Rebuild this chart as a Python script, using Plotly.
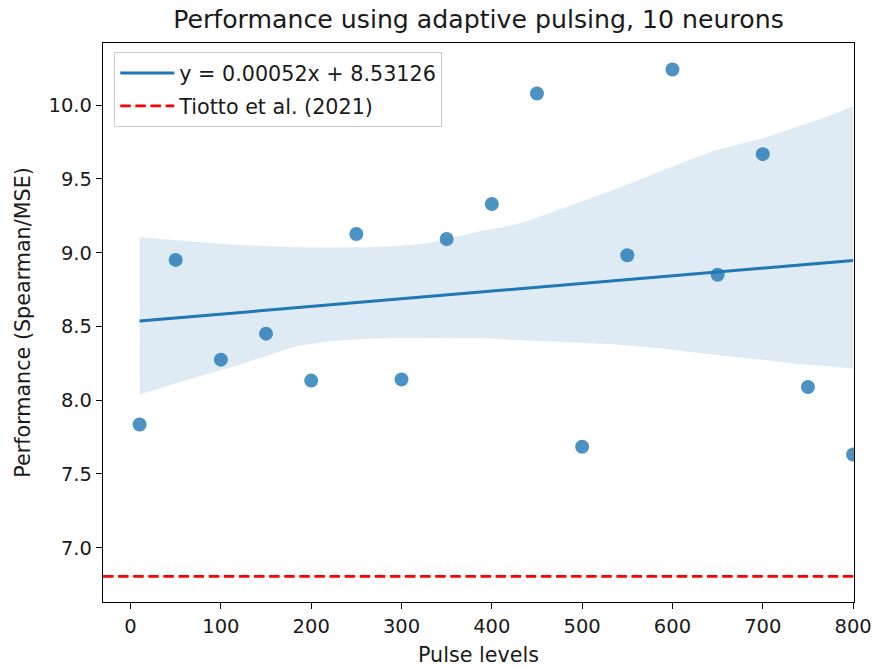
import plotly.graph_objects as go

# Measured performance at each pulse level
pulse_levels = [10, 50, 100, 150, 200, 250, 300, 350, 400, 450, 500, 550, 600, 650, 700, 750, 800]
performance = [7.835, 8.951, 8.275, 8.451, 8.133, 9.127, 8.141, 9.093, 9.330, 10.079,
               7.684, 8.983, 10.242, 8.850, 9.668, 8.090, 7.632]

# Linear fit coefficients (as reported in the legend)
fit_slope = 0.00052
fit_intercept = 8.53126

# 95% confidence band around the fit (bootstrap estimate)
band_x = [10, 40, 75, 110, 150, 185, 220, 260, 295, 330, 370, 390, 410, 435, 480,
          535, 590, 645, 700, 740, 775, 800]
band_upper = [9.105, 9.09, 9.072, 9.055, 9.045, 9.037, 9.035, 9.037, 9.045, 9.064, 9.12,
              9.15, 9.17, 9.205, 9.305, 9.425, 9.56, 9.69, 9.775, 9.855, 9.93, 9.995]
band_lower = [8.038, 8.094, 8.16, 8.22, 8.297, 8.369, 8.399, 8.415, 8.421, 8.421, 8.425,
              8.42, 8.415, 8.405, 8.395, 8.38, 8.349, 8.308, 8.275, 8.243, 8.23, 8.214]

# Reference performance from the literature
baseline_value = 6.806
baseline_label = "Tiotto et al. (2021)"

x_range = [-30.5, 801]
y_range = [6.632, 10.4215]
x_ticks = [0, 100, 200, 300, 400, 500, 600, 700, 800]
y_ticks = [7.0, 7.5, 8.0, 8.5, 9.0, 9.5, 10.0]

BLUE = "#1f77b4"
FONT = "DejaVu Sans"
TEXT = "#1a1a1a"
TICK_SIZE = 19.5
LABEL_SIZE = 20.7
TITLE_SIZE = 25.2

fit_x = [min(pulse_levels), max(pulse_levels)]
fit_y = [fit_slope * v + fit_intercept for v in fit_x]
fit_label = f"y = {fit_slope:.5f}x + {fit_intercept:.5f}"

fig = go.Figure()

# confidence band
fig.add_trace(go.Scatter(x=band_x, y=band_upper, mode="lines", line=dict(width=0),
                         showlegend=False, hoverinfo="skip"))
fig.add_trace(go.Scatter(x=band_x, y=band_lower, mode="lines", line=dict(width=0),
                         fill="tonexty", fillcolor="rgba(31,119,180,0.15)",
                         showlegend=False, hoverinfo="skip"))

# observations
fig.add_trace(go.Scatter(x=pulse_levels, y=performance, mode="markers",
                         marker=dict(color=BLUE, size=14, opacity=0.8, line=dict(width=0)),
                         showlegend=False, cliponaxis=True))

# regression line
fig.add_trace(go.Scatter(x=fit_x, y=fit_y, mode="lines", name=fit_label,
                         legendgroup="fit", legendrank=1,
                         line=dict(color=BLUE, width=3)))

# literature baseline across the full axis
fig.add_trace(go.Scatter(x=x_range, y=[baseline_value, baseline_value], mode="lines",
                         name=baseline_label, legendgroup="ref", legendrank=2,
                         line=dict(color="red", width=2.8, dash="10.5px,4.6px")))

axis_common = dict(showline=True, linecolor="black", linewidth=1.3, mirror=True,
                   ticks="outside", ticklen=6, tickwidth=1.3, tickcolor="black",
                   showgrid=False, zeroline=False, automargin=False,
                   tickfont=dict(family=FONT, size=TICK_SIZE, color=TEXT))

fig.update_xaxes(range=x_range, tickvals=x_ticks,
                 title=dict(text="Pulse levels",
                            font=dict(family=FONT, size=LABEL_SIZE, color=TEXT),
                            standoff=10),
                 **axis_common)
fig.update_yaxes(range=y_range, tickvals=y_ticks, tickformat=".1f",
                 title=dict(text="Performance (Spearman/MSE)",
                            font=dict(family=FONT, size=LABEL_SIZE, color=TEXT),
                            standoff=12),
                 **axis_common)

fig.update_layout(
    width=878, height=668,
    margin=dict(l=103, r=24, t=43, b=66, autoexpand=False),
    paper_bgcolor="white", plot_bgcolor="white",
    title=dict(text="Performance using adaptive pulsing, 10 neurons",
               font=dict(family=FONT, size=TITLE_SIZE, color=TEXT),
               x=0.5, xref="paper", xanchor="center", automargin=False,
               y=1 - 19 / 668, yref="container", yanchor="middle"),
    legend=dict(x=0.015, y=0.984, xanchor="left", yanchor="top",
                traceorder="grouped", tracegroupgap=3, itemwidth=54,
                bgcolor="rgba(255,255,255,0.8)", bordercolor="#cccccc", borderwidth=1,
                font=dict(family=FONT, size=LABEL_SIZE, color=TEXT)),
    showlegend=True,
)

fig.write_html("out.html")
